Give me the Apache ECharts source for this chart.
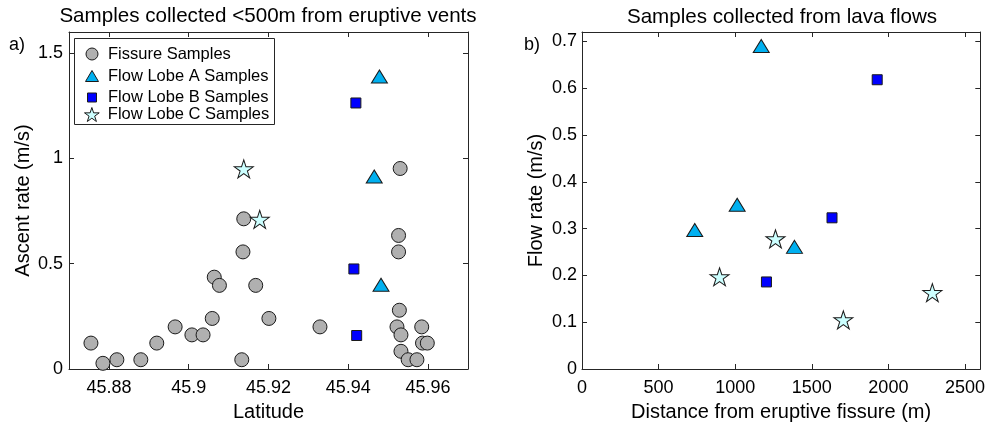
<!DOCTYPE html>
<html>
<head>
<meta charset="utf-8">
<script src="https://cdn.jsdelivr.net/npm/echarts@6/dist/echarts.min.js"></script>
<style>
  html, body { margin: 0; padding: 0; background: #fff; }
  #chart { width: 988px; height: 427px; }
</style>
</head>
<body>
<div id="chart"></div>
<script>
// panel a) samples near the vents
var fissureLat = [45.8755, 45.8785, 45.882, 45.888, 45.892, 45.8966, 45.9008, 45.9036, 45.9059, 45.9064,
                  45.9077, 45.9133, 45.9136, 45.9138, 45.9168, 45.9201, 45.9329, 45.9522, 45.9526, 45.9526,
                  45.9528, 45.953, 45.9532, 45.9532, 45.955, 45.9572, 45.9584, 45.9586, 45.9598];
var fissureAscent = [0.123, 0.027, 0.044, 0.044, 0.123, 0.20, 0.162, 0.162, 0.24, 0.436,
                     0.397, 0.044, 0.556, 0.713, 0.397, 0.24, 0.20, 0.20, 0.634, 0.556,
                     0.279, 0.952, 0.162, 0.084, 0.044, 0.044, 0.20, 0.123, 0.123];
var lobeALat = [45.9478, 45.9465, 45.9482];
var lobeAAscent = [1.389, 0.914, 0.40];
var lobeBLat = [45.9419, 45.9414, 45.9421];
var lobeBAscent = [1.263, 0.475, 0.159];
var lobeCLat = [45.9138, 45.9178];
var lobeCAscent = [0.950, 0.710];

// panel b) samples from lava flows
var lobeADist = [736, 1013, 1170, 1387];
var lobeAFlow = [0.297, 0.351, 0.690, 0.261];
var lobeBDist = [1204, 1632, 1927];
var lobeBFlow = [0.186, 0.323, 0.618];
var lobeCDist = [898, 1263, 1706, 2287];
var lobeCFlow = [0.197, 0.278, 0.105, 0.163];

// tick labels
var latTicks = [45.88, 45.9, 45.92, 45.94, 45.96];
var ascentTicks = [0, 0.5, 1, 1.5];
var distTicks = [0, 500, 1000, 1500, 2000, 2500];
var flowTicks = [0, 0.1, 0.2, 0.3, 0.4, 0.5, 0.6, 0.7];

var legendNames = ['Fissure Samples', 'Flow Lobe A Samples', 'Flow Lobe B Samples', 'Flow Lobe C Samples'];

var FONT = "'Liberation Sans', Arial, sans-serif";
var INK = '#262626';

function pairs(xs, ys) {
    var out = [];
    for (var i = 0; i < xs.length; i++) out.push([xs[i], ys[i]]);
    return out;
}

// five pointed star like matlab 'p' marker
function starPath() {
    var pts = [];
    for (var i = 0; i < 10; i++) {
        var r = (i % 2 === 0) ? 1 : 0.382;
        var a = -Math.PI / 2 + i * Math.PI / 5;
        pts.push((r * Math.cos(a)).toFixed(4) + ' ' + (r * Math.sin(a)).toFixed(4));
    }
    return 'path://M' + pts.join(' L') + ' Z';
}
var STAR = starPath();

function fmt(v) { return String(+(+v).toFixed(3)); }

function axis(opts) {
    var base = {
        type: 'value',
        gridIndex: opts.grid,
        position: opts.position,
        min: opts.min,
        max: opts.max,
        splitLine: {show: false},
        axisLine: {show: true, onZero: false, lineStyle: {color: INK, width: 1}},
        axisTick: {show: true, inside: true, length: 5, customValues: opts.ticks, lineStyle: {color: INK}},
        axisLabel: {
            show: !!opts.labels,
            customValues: opts.ticks,
            formatter: fmt,
            margin: opts.margin || 8,
            color: '#000',
            fontFamily: FONT,
            fontSize: 18
        }
    };
    if (opts.name) {
        base.name = opts.name;
        base.nameLocation = 'middle';
        base.nameGap = opts.nameGap;
        base.nameTextStyle = {color: '#000', fontFamily: FONT, fontSize: 20};
    }
    return base;
}

var edge = {borderColor: '#1a1a1a', borderWidth: 1};
var styles = {
    fissure: {symbol: 'circle', symbolSize: 14, itemStyle: Object.assign({color: '#b0b0b0', opacity: 1}, edge)},
    lobeA: {symbol: 'triangle', symbolSize: [16, 13], itemStyle: Object.assign({color: '#00b0f0', opacity: 1}, edge)},
    lobeB: {symbol: 'rect', symbolSize: 10, itemStyle: Object.assign({color: '#0000ff', opacity: 1}, edge)},
    lobeC: {symbol: STAR, symbolSize: [19, 18], itemStyle: Object.assign({color: '#ccffff', opacity: 1}, edge)}
};

function scatter(name, style, data, axisIdx) {
    return {
        name: name,
        type: 'scatter',
        xAxisIndex: axisIdx,
        yAxisIndex: axisIdx,
        symbol: style.symbol,
        symbolSize: style.symbolSize,
        itemStyle: style.itemStyle,
        emphasis: {disabled: true},
        data: data
    };
}

// one legend per row so each icon keeps its own size
function legendRow(name, w, h, rowY, textX) {
    var left = 91.5 - w / 2;
    return {
        data: [name],
        left: left,
        top: rowY - h / 2,
        padding: 0,
        itemWidth: w,
        itemHeight: h,
        selectedMode: false,
        z: 5,
        itemStyle: {borderWidth: 1, borderColor: '#1a1a1a'},
        textStyle: {color: '#000', fontFamily: FONT, fontSize: 16.5,
                    padding: [0, 0, 0, textX - (left + w + 5)]}
    };
}

var myChart = echarts.init(document.getElementById('chart'), null, {renderer: 'canvas'});
var option = {
    backgroundColor: '#ffffff',
    animation: false,
    grid: [
        {left: 69, top: 32, width: 399, height: 342},
        {left: 582, top: 32, width: 400, height: 342}
    ],
    xAxis: [
        axis({grid: 0, position: 'bottom', min: 45.87, max: 45.97, ticks: latTicks, labels: true,
              name: 'Latitude', nameGap: 33, margin: 10}),
        axis({grid: 0, position: 'top', min: 45.87, max: 45.97, ticks: latTicks}),
        axis({grid: 1, position: 'bottom', min: 0, max: 2600, ticks: distTicks, labels: true,
              name: 'Distance from eruptive fissure (m)', nameGap: 33, margin: 10}),
        axis({grid: 1, position: 'top', min: 0, max: 2600, ticks: distTicks})
    ],
    yAxis: [
        axis({grid: 0, position: 'left', min: 0, max: 1.6, ticks: ascentTicks, labels: true,
              name: 'Ascent rate (m/s)', nameGap: 36, margin: 6}),
        axis({grid: 0, position: 'right', min: 0, max: 1.6, ticks: ascentTicks}),
        axis({grid: 1, position: 'left', min: 0, max: 0.72, ticks: flowTicks, labels: true,
              name: 'Flow rate (m/s)', nameGap: 36, margin: 5}),
        axis({grid: 1, position: 'right', min: 0, max: 0.72, ticks: flowTicks})
    ],
    legend: [
        legendRow(legendNames[0], 12, 12, 51.5, 107.5),
        legendRow(legendNames[1], 13, 11, 73, 107.5),
        legendRow(legendNames[2], 9, 9, 93.5, 107.5),
        legendRow(legendNames[3], 15, 14, 113, 107.5)
    ],
    graphic: [
        {type: 'rect', z: 3, shape: {x: 74.5, y: 38.5, width: 200, height: 86},
            style: {fill: '#ffffff', stroke: INK, lineWidth: 1}},
        {type: 'text', x: 268, y: 16, style: {text: 'Samples collected <500m from eruptive vents',
            font: '20.6px ' + FONT, fill: '#000', textAlign: 'center', textVerticalAlign: 'middle'}},
        {type: 'text', x: 782, y: 17, style: {text: 'Samples collected from lava flows',
            font: '20.6px ' + FONT, fill: '#000', textAlign: 'center', textVerticalAlign: 'middle'}},
        {type: 'text', x: 9, y: 45, style: {text: 'a)', font: '18px ' + FONT, fill: '#000',
            textAlign: 'left', textVerticalAlign: 'middle'}},
        {type: 'text', x: 524, y: 45, style: {text: 'b)', font: '18px ' + FONT, fill: '#000',
            textAlign: 'left', textVerticalAlign: 'middle'}}
    ],
    series: [
        scatter(legendNames[0], styles.fissure, pairs(fissureLat, fissureAscent), 0),
        scatter(legendNames[1], styles.lobeA, pairs(lobeALat, lobeAAscent), 0),
        scatter(legendNames[2], styles.lobeB, pairs(lobeBLat, lobeBAscent), 0),
        scatter(legendNames[3], styles.lobeC, pairs(lobeCLat, lobeCAscent), 0),
        scatter(legendNames[1], styles.lobeA, pairs(lobeADist, lobeAFlow), 2),
        scatter(legendNames[2], styles.lobeB, pairs(lobeBDist, lobeBFlow), 2),
        scatter(legendNames[3], styles.lobeC, pairs(lobeCDist, lobeCFlow), 2)
    ]
};
myChart.setOption(option);
</script>
</body>
</html>
